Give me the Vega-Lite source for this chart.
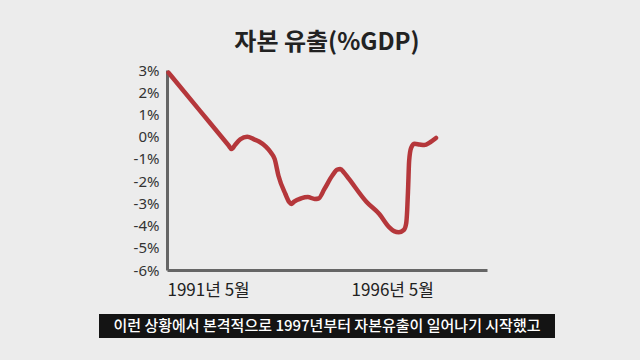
{
  "$schema": "https://vega.github.io/schema/vega-lite/v6.json",
  "background": "#ececec",
  "padding": {"left": 99, "top": 31, "right": 85, "bottom": 22},
  "center": true,
  "spacing": 16,
  "config": {"view": {"stroke": null}, "font": "Noto Sans CJK KR"},
  "vconcat": [
    {
      "title": {"text": "자본 유출(%GDP)", "fontSize": 24, "fontWeight": "bold", "color": "#222222", "font": "Noto Sans CJK KR", "offset": 8, "anchor": "middle"},
      "width": 320,
      "height": 200,
      "data": {"values": [
        {"date": "1991-05-16", "value": 2.88},
        {"date": "1992-03-26", "value": 1.15},
        {"date": "1993-01-02", "value": -0.4},
        {"date": "1993-01-31", "value": -0.56},
        {"date": "1993-03-10", "value": -0.35},
        {"date": "1993-04-28", "value": -0.12},
        {"date": "1993-07-05", "value": 0.0},
        {"date": "1993-09-11", "value": -0.12},
        {"date": "1993-10-30", "value": -0.22},
        {"date": "1994-01-06", "value": -0.45},
        {"date": "1994-02-23", "value": -0.7},
        {"date": "1994-04-03", "value": -1.0},
        {"date": "1994-05-12", "value": -1.77},
        {"date": "1994-07-19", "value": -2.58},
        {"date": "1994-08-27", "value": -2.95},
        {"date": "1994-09-15", "value": -3.03},
        {"date": "1994-10-14", "value": -2.92},
        {"date": "1994-12-21", "value": -2.78},
        {"date": "1995-02-27", "value": -2.72},
        {"date": "1995-05-06", "value": -2.8},
        {"date": "1995-06-14", "value": -2.78},
        {"date": "1995-08-11", "value": -2.35},
        {"date": "1995-10-28", "value": -1.75},
        {"date": "1995-12-16", "value": -1.48},
        {"date": "1996-01-14", "value": -1.46},
        {"date": "1996-02-22", "value": -1.62},
        {"date": "1996-04-10", "value": -1.9},
        {"date": "1996-10-02", "value": -2.94},
        {"date": "1997-02-05", "value": -3.48},
        {"date": "1997-05-13", "value": -4.07},
        {"date": "1997-07-01", "value": -4.25},
        {"date": "1997-08-18", "value": -4.3},
        {"date": "1997-10-06", "value": -4.2},
        {"date": "1997-10-30", "value": -3.9},
        {"date": "1997-11-09", "value": -3.3},
        {"date": "1997-11-19", "value": -2.2},
        {"date": "1997-11-28", "value": -1.1},
        {"date": "1997-12-18", "value": -0.5},
        {"date": "1998-01-21", "value": -0.32},
        {"date": "1998-03-10", "value": -0.35},
        {"date": "1998-04-28", "value": -0.38},
        {"date": "1998-06-25", "value": -0.25},
        {"date": "1998-08-22", "value": -0.06}
      ]},
      "mark": {"type": "line", "interpolate": "monotone", "color": "#b5373b", "strokeWidth": 4.5, "strokeCap": "round", "strokeJoin": "round"},
      "encoding": {
        "x": {
          "field": "date", "type": "temporal",
          "scale": {"type": "utc", "domain": [{"year": 1991, "month": 5, "date": 1, "utc": true}, {"year": 2000, "month": 1, "date": 10, "utc": true}]},
          "axis": {
            "title": null,
            "values": [{"year": 1991, "month": 5, "date": 1, "utc": true}, {"year": 1996, "month": 5, "date": 1, "utc": true}],
            "labelExpr": "utcFormat(datum.value, '%Y') + '년 ' + utcFormat(datum.value, '%-m') + '월'",
            "labelAlign": "left", "labelFontSize": 17, "labelColor": "#222222", "labelFont": "Noto Sans CJK KR",
            "ticks": false, "grid": false, "domainColor": "#666666", "domainWidth": 3, "labelPadding": 12, "labelFlush": false
          }
        },
        "y": {
          "field": "value", "type": "quantitative",
          "scale": {"domain": [-6, 3], "nice": false, "zero": false},
          "axis": {
            "title": null, "values": [-6, -5, -4, -3, -2, -1, 0, 1, 2, 3],
            "labelExpr": "datum.value + '%'",
            "ticks": false, "grid": false, "domainColor": "#666666", "domainWidth": 3,
            "labelFontSize": 15, "labelColor": "#333333", "labelFont": "Noto Sans", "labelPadding": 8
          }
        }
      }
    },
    {
      "width": 456,
      "height": 24,
      "view": {"fill": "#141414", "stroke": null},
      "data": {"values": [{"caption": "이런 상황에서 본격적으로 1997년부터 자본유출이 일어나기 시작했고"}]},
      "mark": {"type": "text", "color": "#ffffff", "fontSize": 15, "font": "Noto Sans CJK KR", "fontWeight": 500, "baseline": "middle", "align": "center"},
      "encoding": {"text": {"field": "caption", "type": "nominal"}}
    }
  ]
}
